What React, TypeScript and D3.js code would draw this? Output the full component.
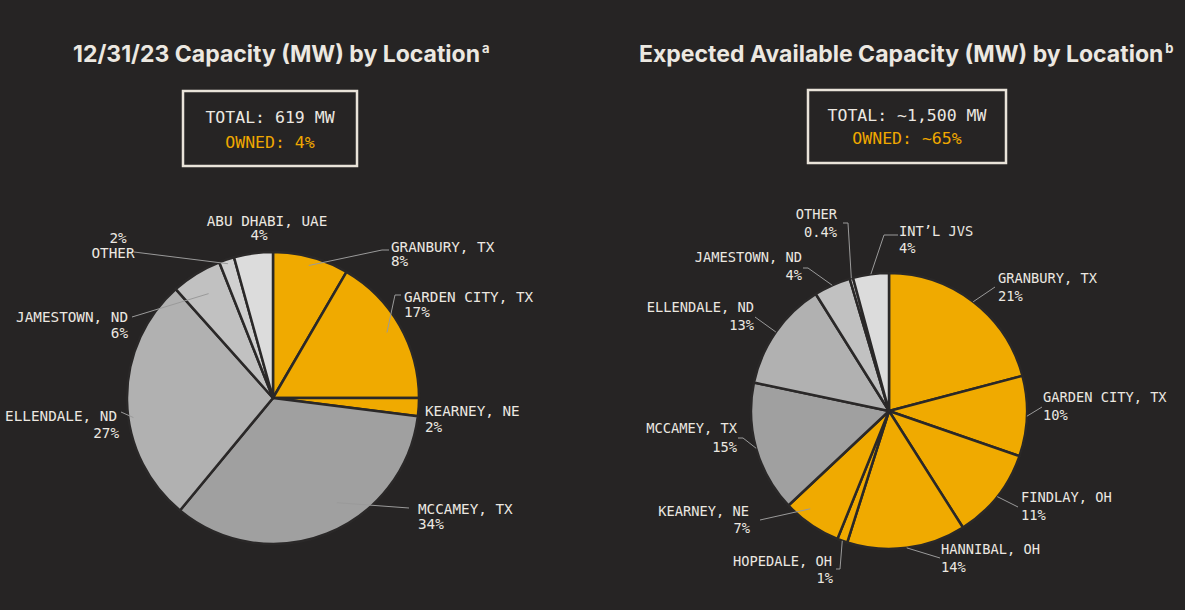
import React from "react";
import * as d3 from "d3";

// ---------- DATA ----------
const leftNames = ["GRANBURY, TX", "GARDEN CITY, TX", "KEARNEY, NE", "MCCAMEY, TX", "ELLENDALE, ND", "JAMESTOWN, ND", "OTHER", "ABU DHABI, UAE"];
const leftShares = [8.4, 16.6, 2.0, 34.0, 27.4, 5.6, 1.7, 4.3];
const leftPctLabels = ["8%", "17%", "2%", "34%", "27%", "6%", "2%", "4%"];

const rightNames = ["GRANBURY, TX", "GARDEN CITY, TX", "FINDLAY, OH", "HANNIBAL, OH", "HOPEDALE, OH", "KEARNEY, NE", "MCCAMEY, TX", "ELLENDALE, ND", "JAMESTOWN, ND", "OTHER", "INT\u2019L JVS"];
const rightShares = [20.9, 9.4, 10.7, 13.9, 1.2, 6.9, 15.3, 12.8, 4.3, 0.4, 4.2];
const rightPctLabels = ["21%", "10%", "11%", "14%", "1%", "7%", "15%", "13%", "4%", "0.4%", "4%"];

const leftTitle = "12/31/23 Capacity (MW) by Location";
const leftSup = "a";
const rightTitle = "Expected Available Capacity (MW) by Location";
const rightSup = "b";
const leftTotal = "TOTAL: 619 MW";
const leftOwned = "OWNED: 4%";
const rightTotal = "TOTAL: ~1,500 MW";
const rightOwned = "OWNED: ~65%";

// ---------- STYLE / LAYOUT ----------
const W = 1185, H = 610;
const BG = "#262424";
const TXT = "#ece8e1";
const ORANGE = "#f0a800";
const YEL = "#f0aa00";
const G1 = "#a0a0a0", G2 = "#b1b1b1", G3 = "#c1c1c1", G4 = "#d0d0d0", G5 = "#dcdcdc";
const STROKE = "#2a2828";
const LEADER = "#9a9a9a";

const leftColors = [YEL, YEL, YEL, G1, G2, G3, G4, G5];
const rightColors = [YEL, YEL, YEL, YEL, YEL, YEL, G1, G2, G3, G4, G5];

type Lab = {
  nx: number; ny: number; px: number; py: number; anchor: string;
  ls?: [number, number]; elbow?: [number, number]; rf?: number; t?: number;
};

const leftLayout: Lab[] = [
  { nx: 391, ny: 252, px: 391, py: 266, anchor: "start", ls: [389, 250], elbow: [382, 250], rf: 0.94 },
  { nx: 404, ny: 302, px: 404, py: 317, anchor: "start", ls: [401, 295], elbow: [395, 295], rf: 0.9 },
  { nx: 425, ny: 416, px: 425, py: 432, anchor: "start" },
  { nx: 418, ny: 514, px: 418, py: 529, anchor: "start", ls: [409, 508], rf: 0.84, t: 0.42 },
  { nx: 117, ny: 421, px: 119, py: 438, anchor: "end", ls: [121, 412], rf: 0.965, t: 0.43 },
  { nx: 128, ny: 322, px: 128, py: 338, anchor: "end", ls: [132, 317], rf: 0.84 },
  { nx: 113, ny: 258, px: 118, py: 243, anchor: "middle", ls: [134, 252], rf: 0.97 },
  { nx: 267, ny: 226, px: 259, py: 240, anchor: "middle" },
];

const rightLayout: Lab[] = [
  { nx: 998, ny: 283, px: 998, py: 301, anchor: "start", ls: [995, 287], rf: 1 },
  { nx: 1043, ny: 402, px: 1043, py: 420, anchor: "start", ls: [1042, 407], rf: 1 },
  { nx: 1021, ny: 502, px: 1021, py: 520, anchor: "start", ls: [1018, 507], rf: 1 },
  { nx: 941, ny: 554, px: 941, py: 572, anchor: "start", ls: [940, 558], rf: 1 },
  { nx: 832, ny: 566, px: 833, py: 583, anchor: "end", ls: [836, 569], elbow: [840, 569], rf: 1 },
  { nx: 749, ny: 516, px: 750, py: 533, anchor: "end", ls: [760, 520], rf: 0.91, t: 0.68 },
  { nx: 737, ny: 433, px: 737, py: 452, anchor: "end", ls: [738, 438], elbow: [743, 438], rf: 1 },
  { nx: 754, ny: 312, px: 754, py: 330, anchor: "end", ls: [755, 317], rf: 1 },
  { nx: 802, ny: 262, px: 802, py: 280, anchor: "end", ls: [803, 268], elbow: [808, 268], rf: 1 },
  { nx: 837, ny: 219, px: 837, py: 237, anchor: "end", ls: [843, 223], elbow: [848, 223], rf: 1 },
  { nx: 899, ny: 236, px: 899, py: 253, anchor: "start", ls: [898, 235], elbow: [884, 235], rf: 1 },
];

const MONO = "'DejaVu Sans Mono', monospace";
const SANS = "Inter, 'Noto Sans', sans-serif";

function Pie(props: {
  cx: number; cy: number; r: number; shares: number[]; colors: string[];
  names: string[]; pcts: string[]; layout: Lab[]; fs: number;
}) {
  const { cx, cy, r, shares, colors, names, pcts, layout, fs } = props;
  const pie = d3.pie<number>().sort(null).value((d) => d).startAngle(0).endAngle(2 * Math.PI);
  const arcs = pie(shares);
  const arc = d3.arc<d3.PieArcDatum<number>>().innerRadius(0).outerRadius(r);
  return (
    <g>
      <g transform={`translate(${cx},${cy})`}>
        {arcs.map((a, i) => (
          <path key={i} d={arc(a) || ""} fill={colors[i]} stroke={STROKE} strokeWidth={2.5} strokeLinejoin="round" />
        ))}
      </g>
      {arcs.map((a, i) => {
        const L = layout[i];
        if (!L.ls) return null;
        const t = L.t ?? 0.5;
        const ang = a.startAngle + (a.endAngle - a.startAngle) * t;
        const rr = r * (L.rf ?? 1);
        const ex = cx + rr * Math.sin(ang);
        const ey = cy - rr * Math.cos(ang);
        const pts: [number, number][] = [L.ls];
        if (L.elbow) pts.push(L.elbow);
        pts.push([ex, ey]);
        return <path key={"l" + i} d={d3.line()(pts) || ""} fill="none" stroke={LEADER} strokeWidth={1} />;
      })}
      {arcs.map((a, i) => {
        const L = layout[i];
        return (
          <g key={"t" + i} fill={TXT} fontFamily={MONO} fontSize={fs} textAnchor={L.anchor as any}>
            <text x={L.nx} y={L.ny}>{names[i]}</text>
            <text x={L.px} y={L.py}>{pcts[i]}</text>
          </g>
        );
      })}
    </g>
  );
}

function Box(props: { x: number; y: number; w: number; h: number; total: string; owned: string; ty1: number; ty2: number }) {
  const { x, y, w, h, total, owned, ty1, ty2 } = props;
  return (
    <g fontFamily={MONO} fontSize={16.5} textAnchor="middle">
      <rect x={x} y={y} width={w} height={h} fill="none" stroke="#e9e3d9" strokeWidth={2.5} />
      <text x={x + w / 2} y={ty1} fill={TXT}>{total}</text>
      <text x={x + w / 2} y={ty2} fill={ORANGE}>{owned}</text>
    </g>
  );
}

export default function App() {
  return (
    <svg width={W} height={H} style={{ position: "fixed", left: 0, top: 0, display: "block" }}>
      <rect width={W} height={H} fill={BG} />
      <text x={73} y={62} fill={TXT} fontFamily={SANS} fontWeight={700} fontSize={23}>
        {leftTitle}
        <tspan fontSize={13} dx={2} dy={-9}>{leftSup}</tspan>
      </text>
      <text x={639} y={62} fill={TXT} fontFamily={SANS} fontWeight={700} fontSize={23}>
        {rightTitle}
        <tspan fontSize={13} dx={2} dy={-9}>{rightSup}</tspan>
      </text>
      <Box x={183} y={91} w={174} h={75} total={leftTotal} owned={leftOwned} ty1={123} ty2={148} />
      <Box x={808} y={90} w={198} h={73} total={rightTotal} owned={rightOwned} ty1={121} ty2={144} />
      <Pie cx={273} cy={398} r={146} shares={leftShares} colors={leftColors} names={leftNames} pcts={leftPctLabels} layout={leftLayout} fs={14.3} />
      <Pie cx={889} cy={411} r={138} shares={rightShares} colors={rightColors} names={rightNames} pcts={rightPctLabels} layout={rightLayout} fs={13.7} />
    </svg>
  );
}
